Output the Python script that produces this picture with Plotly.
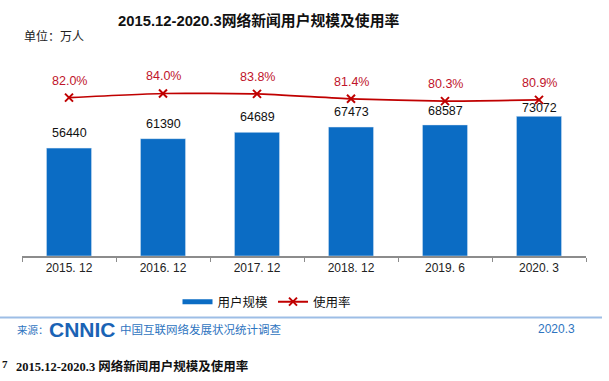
import plotly.graph_objects as go

# ---- data ----
categories = ["2015. 12", "2016. 12", "2017. 12", "2018. 12", "2019. 6", "2020. 3"]
users = [56440, 61390, 64689, 67473, 68587, 73072]          # 万人
usage_rate = [82.0, 84.0, 83.8, 81.4, 80.3, 80.9]           # %

title_text = "2015.12-2020.3网络新闻用户规模及使用率"
unit_text = "单位：万人"
bar_name = "用户规模"
line_name = "使用率"
source_prefix = "来源："
source_logo = "CNNIC"
source_text = "中国互联网络发展状况统计调查"
source_date = "2020.3"
caption_text = "2015.12-2020.3 网络新闻用户规模及使用率"

# ---- style ----
W, H = 609, 381
L, R, T, B = 22, 23, 40, 125
PW, PH = W - L - R, H - T - B
BLUE = "#0B6CC4"
RED = "#C00000"
LABEL_RED = "#C0142B"
CJK = "Noto Sans CJK SC"
bar_label_shift = [15, 15, 15, 15, 14, 8]


def px_x(x):
    return (x - L) / PW


def px_y(y):
    return (H - B - y) / PH


fig = go.Figure()

fig.add_trace(go.Bar(
    x=categories, y=users, marker_color=BLUE, width=0.48,
    showlegend=False, name=bar_name, yaxis="y",
))
fig.add_trace(go.Scatter(
    x=categories, y=usage_rate, mode="lines+markers", yaxis="y2",
    line=dict(color=RED, width=1.6, shape="spline", smoothing=0.5),
    marker=dict(symbol="x-thin", size=8, line=dict(color=RED, width=2)),
    showlegend=False, name=line_name,
))
# legend proxies
fig.add_trace(go.Scatter(
    x=[None], y=[None], mode="lines", name=bar_name,
    line=dict(color=BLUE, width=5),
))
fig.add_trace(go.Scatter(
    x=[None], y=[None], mode="lines+markers", name=line_name,
    line=dict(color=RED, width=2),
    marker=dict(symbol="x-thin", size=8, line=dict(color=RED, width=2)),
))

annotations = []
for i, (c, v) in enumerate(zip(categories, users)):
    annotations.append(dict(
        x=c, y=v, xref="x", yref="y", text=str(v), showarrow=False,
        yshift=bar_label_shift[i], yanchor="middle",
        font=dict(family="Liberation Sans, Arial", size=12.5, color="#111111"),
    ))
for c, v in zip(categories, usage_rate):
    annotations.append(dict(
        x=c, y=v, xref="x", yref="y2", text=f"{v:.1f}%", showarrow=False,
        yshift=17, yanchor="middle",
        font=dict(family="Liberation Sans, Arial", size=12.5, color=LABEL_RED),
    ))

# title & unit
annotations.append(dict(
    x=px_x(258), y=px_y(20), xref="paper", yref="paper", text=f"<b>{title_text}</b>",
    showarrow=False, xanchor="center", yanchor="middle",
    font=dict(family=f"Liberation Sans, {CJK}", size=14.8, color="#111111"),
))
annotations.append(dict(
    x=px_x(22), y=px_y(35), xref="paper", yref="paper", text=unit_text,
    showarrow=False, xanchor="left", yanchor="middle",
    font=dict(family=CJK, size=12, color="#222222"),
))
# source line
annotations.append(dict(
    x=px_x(15), y=px_y(329), xref="paper", yref="paper", text=source_prefix,
    showarrow=False, xanchor="left", yanchor="middle",
    font=dict(family=CJK, size=10.5, color="#2E74C0"),
))
annotations.append(dict(
    x=px_x(47), y=px_y(329), xref="paper", yref="paper", text=f"<b>{source_logo}</b>",
    showarrow=False, xanchor="left", yanchor="middle",
    font=dict(family="Liberation Sans, Arial", size=21, color="#1A63B5"),
))
annotations.append(dict(
    x=px_x(118), y=px_y(329), xref="paper", yref="paper", text=source_text,
    showarrow=False, xanchor="left", yanchor="middle",
    font=dict(family=CJK, size=11.5, color="#2E74C0"),
))
annotations.append(dict(
    x=px_x(577), y=px_y(329), xref="paper", yref="paper", text=source_date,
    showarrow=False, xanchor="right", yanchor="middle",
    font=dict(family="Liberation Sans, Arial", size=12, color="#2E74C0"),
))
# caption
annotations.append(dict(
    x=px_x(14), y=px_y(366), xref="paper", yref="paper", text=f"<b>{caption_text}</b>",
    showarrow=False, xanchor="left", yanchor="middle",
    font=dict(family=f"Liberation Serif, {CJK}", size=12.5, color="#111111"),
))
annotations.append(dict(
    x=px_x(0), y=px_y(364), xref="paper", yref="paper", text="<b>7</b>",
    showarrow=False, xanchor="left", yanchor="middle",
    font=dict(family="Liberation Serif", size=11, color="#111111"),
))

shapes = [dict(
    type="line", xref="paper", yref="paper",
    x0=px_x(0), x1=px_x(602), y0=px_y(317.5), y1=px_y(317.5),
    line=dict(color="#9DBEE6", width=2),
)]

fig.update_layout(
    width=W, height=H,
    margin=dict(l=L, r=R, t=T, b=B),
    paper_bgcolor="white", plot_bgcolor="white",
    xaxis=dict(
        type="category", showline=True, linecolor="#8C8C8C", linewidth=2,
        ticks="outside", tickson="boundaries", ticklen=4, tickcolor="#8C8C8C",
        showgrid=False, tickfont=dict(family="Liberation Sans, Arial", size=12, color="#222222"),
    ),
    yaxis=dict(range=[0, 113000], visible=False, showgrid=False, zeroline=False),
    yaxis2=dict(range=[5, 110], overlaying="y", side="right", visible=False,
                showgrid=False, zeroline=False),
    legend=dict(
        orientation="h", x=px_x(267), y=px_y(302), xanchor="center", yanchor="middle",
        font=dict(family=CJK, size=12.5, color="#111111"), itemwidth=30,
        bgcolor="rgba(0,0,0,0)",
    ),
    annotations=annotations,
    shapes=shapes,
)

fig.write_html(
    "out.html",
    config={"displayModeBar": False},
    post_script="document.body.style.margin='0';document.body.style.overflow='hidden';",
)
